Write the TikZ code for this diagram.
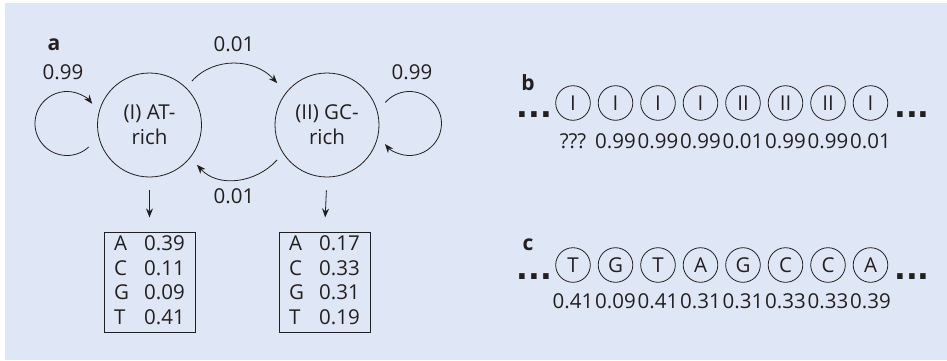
\documentclass[tikz,border=0pt]{standalone}
\usepackage{fontspec}
\setmainfont{Open Sans}
\newfontfamily\dotfont{DejaVu Sans}
\usepackage{tikz}
\usetikzlibrary{positioning,arrows.meta,calc}
\definecolor{panel}{HTML}{DFE6F5}
\definecolor{ink}{HTML}{231F20}

\begin{document}
\begin{tikzpicture}[x=1pt, y=1pt,
  every node/.style={text=ink, font=\fontsize{20.5}{25}\selectfont},
  hstate/.style={draw=ink, circle, minimum size=104pt, inner sep=0pt, align=center, line width=0.8pt},
  emit/.style={draw=ink, line width=0.8pt, inner sep=0pt, minimum width=91pt, minimum height=100pt, font=\fontsize{20.5}{24.5}\selectfont},
  seq/.style={draw=ink, circle, minimum size=34.6pt, inner sep=0pt, line width=0.8pt},
  num/.style={inner sep=0pt},
  ellip/.style={inner sep=0pt, font=\dotfont\bfseries\fontsize{31}{31}\selectfont},
  tag/.style={font=\bfseries\fontsize{21}{21}\selectfont},
  arr/.style={draw=ink, line width=0.8pt, -{Stealth[length=9pt, width=7pt, inset=3pt]}},
  node distance=7.1pt]
\useasboundingbox (0,0) rectangle (947,360);
\fill[panel] (5,0) rectangle (947,357);
\node[tag] (la) at (54,315) {a};
\node[hstate] (at) at (149.5,235) {(I) AT-\\rich};
\node[hstate] (gc) at (327,235) {(II) GC-\\rich};
\node (pat) at (63,288) {0.99};
\node (pgc) at (412,288) {0.99};
\node (pag) at (234,316) {0.01};
\node (pga) at (234,164) {0.01};
\node[emit, below=55pt of at] (eat) {\begin{tabular}{@{}l@{\hspace{15pt}}l@{}}A & 0.39\\ C & 0.11\\ G & 0.09\\ T & 0.41\end{tabular}};
\node[emit, below=55pt of gc, xshift=-2.5pt] (egc) {\begin{tabular}{@{}l@{\hspace{15pt}}l@{}}A & 0.17\\ C & 0.33\\ G & 0.31\\ T & 0.19\end{tabular}};
\draw[arr] ($(at)+(46:61)$) to[out=48, in=132] ($(gc)+(140:65)$);
\draw[arr] ($(gc)+(215:61)$) to[out=228, in=312] ($(at)+(320:62)$);
\draw[arr] ($(at)+(-60.7,-21.9)$) arc[start angle=-47, end angle=-322, radius=32];
\draw[arr] ($(gc)+(58.3,22.5)$) arc[start angle=139, end angle=-140, radius=32];
\draw[arr, shorten <=13pt, shorten >=15pt] (at.south) -- (eat.north);
\draw[arr, shorten <=13pt, shorten >=15pt] (gc.south) -- (egc.north);
\node[tag] (lb) at (528,277) {b};
\node[seq] (b1) at (573,257) {I};
\node[seq, right=of b1] (b2) {I};
\node[seq, right=of b2] (b3) {I};
\node[seq, right=of b3] (b4) {I};
\node[seq, right=of b4] (b5) {II};
\node[seq, right=of b5] (b6) {II};
\node[seq, right=of b6] (b7) {II};
\node[seq, right=of b7] (b8) {I};
\node[ellip, left=3pt of b1, yshift=-12pt] (bl) {...};
\node[ellip, right=6pt of b8, yshift=-12pt] (br) {...};
\node[num, below=12.5pt of b1] (pb1) {???};
\node[num, below=12.5pt of b2] (pb2) {0.99};
\node[num, below=12.5pt of b3] (pb3) {0.99};
\node[num, below=12.5pt of b4] (pb4) {0.99};
\node[num, below=12.5pt of b5] (pb5) {0.01};
\node[num, below=12.5pt of b6] (pb6) {0.99};
\node[num, below=12.5pt of b7] (pb7) {0.99};
\node[num, below=12.5pt of b8] (pb8) {0.01};
\node[tag] (lc) at (528,115) {c};
\node[seq] (c1) at (573,95) {T};
\node[seq, right=of c1] (c2) {G};
\node[seq, right=of c2] (c3) {T};
\node[seq, right=of c3] (c4) {A};
\node[seq, right=of c4] (c5) {G};
\node[seq, right=of c5] (c6) {C};
\node[seq, right=of c6] (c7) {C};
\node[seq, right=of c7] (c8) {A};
\node[ellip, left=3pt of c1, yshift=-12pt] (cl) {...};
\node[ellip, right=6pt of c8, yshift=-12pt] (cr) {...};
\node[num, below=10.5pt of c1] (pc1) {0.41};
\node[num, below=10.5pt of c2] (pc2) {0.09};
\node[num, below=10.5pt of c3] (pc3) {0.41};
\node[num, below=10.5pt of c4] (pc4) {0.31};
\node[num, below=10.5pt of c5] (pc5) {0.31};
\node[num, below=10.5pt of c6] (pc6) {0.33};
\node[num, below=10.5pt of c7] (pc7) {0.33};
\node[num, below=10.5pt of c8] (pc8) {0.39};
\end{tikzpicture}
\end{document}
